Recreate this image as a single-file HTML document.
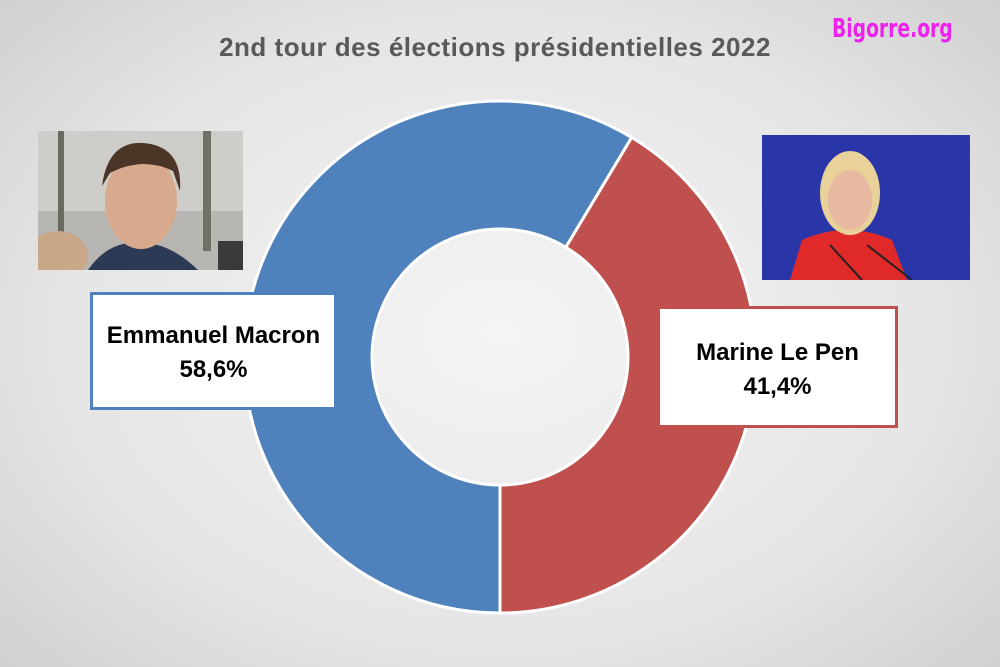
<!DOCTYPE html>
<html><head><meta charset="utf-8"><style>
html,body{margin:0;padding:0}
body{width:1000px;height:667px;overflow:hidden;position:relative;font-family:"Liberation Sans",sans-serif;
background:radial-gradient(ellipse 70% 75% at 50% 50%,#f4f4f4 0%,#e6e6e6 60%,#cfcfcf 100%)}
.title{position:absolute;left:0;width:990px;top:32px;text-align:center;font-size:26px;font-weight:bold;color:#595959;letter-spacing:0.5px}
.wm{position:absolute;left:832px;top:14px;font-size:26px;font-weight:bold;color:#ee22ee;font-family:"DejaVu Sans Condensed","Liberation Sans Narrow",sans-serif;transform:scaleX(0.8);transform-origin:left}
.box{position:absolute;background:#fff;text-align:center;font-weight:bold;font-size:24px;color:#000;line-height:34px;box-sizing:border-box}
</style></head><body>
<div class="title">2nd tour des élections présidentielles 2022</div>
<div class="wm">Bigorre.org</div>

<svg style="position:absolute;left:38px;top:131px" width="205" height="139">
<rect width="205" height="139" fill="#b8b6b2"/>
<rect x="0" y="0" width="205" height="80" fill="#cfcdc9"/>
<rect x="20" y="0" width="6" height="110" fill="#6a6a60"/><rect x="165" y="0" width="8" height="120" fill="#707066"/>
<ellipse cx="20" cy="125" rx="30" ry="25" fill="#c9a88a"/>
<path d="M50 139 Q70 110 100 112 Q130 110 160 139Z" fill="#2c3a55"/>
<ellipse cx="103" cy="70" rx="36" ry="48" fill="#d7a98d"/>
<path d="M64 55 Q70 10 105 12 Q145 15 142 60 L135 40 Q105 25 72 42Z" fill="#4a3526"/>
<rect x="180" y="110" width="25" height="29" fill="#3a3a3a"/>
</svg>

<svg style="position:absolute;left:762px;top:135px" width="208" height="145">
<rect width="208" height="145" fill="#2a36a8"/>
<path d="M28 145 L40 105 Q85 85 130 105 L145 145Z" fill="#e02a2a"/>
<ellipse cx="88" cy="58" rx="30" ry="42" fill="#e8d29a"/>
<ellipse cx="88" cy="65" rx="22" ry="30" fill="#e6b9a0"/>
<line x1="68" y1="110" x2="100" y2="145" stroke="#222" stroke-width="2"/>
<line x1="105" y1="110" x2="150" y2="145" stroke="#222" stroke-width="2"/>
</svg>

<svg id="chart" style="position:absolute;left:0;top:0" width="1000" height="667"></svg>

<div class="box" style="left:90px;top:292px;width:247px;height:118px;border:3px solid #4f81bd;padding-top:24px">Emmanuel Macron<br>58,6%</div>
<div class="box" style="left:657px;top:306px;width:241px;height:122px;border:3px solid #c0504d;padding-top:27px">Marine Le Pen<br>41,4%</div>

<script>
const candidates=["Emmanuel Macron","Marine Le Pen"];
const shares=[58.6,41.4];
const colors=["#4f81bd","#c0504d"];
const svg=document.getElementById('chart');
const cx=500,cy=357,R=256,r=128;
const total=shares.reduce((a,b)=>a+b,0);
function pt(a,rad){return [cx+rad*Math.sin(a),cy-rad*Math.cos(a)];}
let a0=Math.PI;
shares.forEach((v,i)=>{
 const a1=a0+v/total*2*Math.PI;
 const large=(a1-a0)>Math.PI?1:0;
 const [x0,y0]=pt(a0,R),[x1,y1]=pt(a1,R),[x2,y2]=pt(a1,r),[x3,y3]=pt(a0,r);
 const p=document.createElementNS('http://www.w3.org/2000/svg','path');
 p.setAttribute('d',`M${x0} ${y0}A${R} ${R} 0 ${large} 1 ${x1} ${y1}L${x2} ${y2}A${r} ${r} 0 ${large} 0 ${x3} ${y3}Z`);
 p.setAttribute('fill',colors[i]);p.setAttribute('stroke','#fff');p.setAttribute('stroke-width','3');
 
 
 svg.appendChild(p);
 a0=a1;
});
</script>
</body></html>
